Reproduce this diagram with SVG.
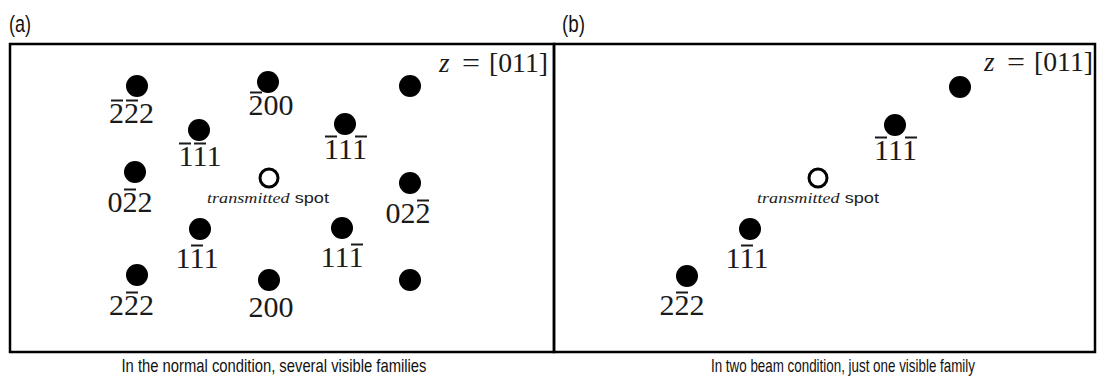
<svg xmlns="http://www.w3.org/2000/svg" width="1097" height="380" viewBox="0 0 1097 380">
<style>
.frame{fill:none;stroke:#000;stroke-width:2.5}
.dot{fill:#000}
.open{fill:#fff;stroke:#000;stroke-width:3}
.lbl{font-family:"Liberation Serif",serif;font-size:30px;fill:#1a1a1a;text-anchor:middle}
.bar{stroke:#1a1a1a;stroke-width:2}
.cap{font-family:"Liberation Sans",sans-serif;font-size:19px;fill:#111;text-anchor:middle}
.tag{font-family:"Liberation Sans",sans-serif;font-size:24px;fill:#111}
.ts{font-family:"Liberation Serif",serif;font-size:15px;fill:#222;text-anchor:middle}
.zax{font-family:"Liberation Serif",serif;font-size:27px;fill:#1a1a1a}
</style>
<text class="tag" x="9" y="32" textLength="22" lengthAdjust="spacingAndGlyphs">(a)</text>
<text class="tag" x="562" y="32" textLength="23" lengthAdjust="spacingAndGlyphs">(b)</text>
<g id="panel-a">
<rect class="frame" x="10" y="44" width="544" height="308"/>
<text class="zax" x="439" y="72"><tspan font-style="italic">z</tspan><tspan x="462" textLength="18" lengthAdjust="spacingAndGlyphs">=</tspan><tspan x="489" textLength="59" lengthAdjust="spacingAndGlyphs">[011]</tspan></text>
</g>
<g id="panel-b">
<rect class="frame" x="554" y="44" width="541" height="308"/>
<text class="zax" x="984" y="71"><tspan font-style="italic">z</tspan><tspan x="1007" textLength="18" lengthAdjust="spacingAndGlyphs">=</tspan><tspan x="1034" textLength="59" lengthAdjust="spacingAndGlyphs">[011]</tspan></text>
</g>
<g id="a-m2m22"><circle class="dot" cx="137" cy="86" r="11"/><text class="lbl" x="131.5" y="123">222</text><path class="bar" d="M111 100.5h12M126 100.5h12"/></g>
<g id="a-m200"><circle class="dot" cx="268" cy="82" r="11"/><text class="lbl" x="271" y="115">200</text><path class="bar" d="M250 92.5h12"/></g>
<g id="a-m1m11"><circle class="dot" cx="199" cy="130" r="11"/><text class="lbl" x="200" y="166">111</text><path class="bar" d="M179 143.5h12M194 143.5h12"/></g>
<g id="a-m11m1"><circle class="dot" cx="345" cy="124" r="11"/><text class="lbl" x="345.5" y="159">111</text><path class="bar" d="M325 136.5h12M355 136.5h12"/></g>
<g id="a-topright"><circle class="dot" cx="410" cy="86" r="11"/></g>
<g id="a-0m22"><circle class="dot" cx="135" cy="172" r="11"/><text class="lbl" x="130" y="212">022</text><path class="bar" d="M124 189.5h12"/></g>
<g id="a-transmitted"><circle class="open" cx="269" cy="178" r="9"/><text class="ts" x="268" y="203" textLength="122" lengthAdjust="spacingAndGlyphs"><tspan font-style="italic">transmitted</tspan><tspan font-family="Liberation Sans, sans-serif"> spot</tspan></text></g>
<g id="a-02m2"><circle class="dot" cx="410" cy="183" r="11"/><text class="lbl" x="408" y="223">022</text><path class="bar" d="M417 200.5h12"/></g>
<g id="a-1m11"><circle class="dot" cx="200" cy="229" r="11"/><text class="lbl" x="197" y="268">111</text><path class="bar" d="M191 245.5h12"/></g>
<g id="a-11m1"><circle class="dot" cx="342" cy="228" r="11"/><text class="lbl" x="342" y="267">111</text><path class="bar" d="M351 244.5h12"/></g>
<g id="a-2m22"><circle class="dot" cx="137" cy="275" r="11"/><text class="lbl" x="131.5" y="315">222</text><path class="bar" d="M126 292.5h12"/></g>
<g id="a-200"><circle class="dot" cx="269" cy="280" r="11"/><text class="lbl" x="271" y="317">200</text></g>
<g id="a-botright"><circle class="dot" cx="410" cy="280" r="11"/></g>
<g id="b-topright"><circle class="dot" cx="960" cy="87" r="11"/></g>
<g id="b-m11m1"><circle class="dot" cx="895" cy="125" r="11"/><text class="lbl" x="895.5" y="160">111</text><path class="bar" d="M875 137.5h12M905 137.5h12"/></g>
<g id="b-transmitted"><circle class="open" cx="818" cy="178" r="9"/><text class="ts" x="818" y="203" textLength="122" lengthAdjust="spacingAndGlyphs"><tspan font-style="italic">transmitted</tspan><tspan font-family="Liberation Sans, sans-serif"> spot</tspan></text></g>
<g id="b-1m11"><circle class="dot" cx="750" cy="229" r="11"/><text class="lbl" x="747" y="268">111</text><path class="bar" d="M741 245.5h12"/></g>
<g id="b-2m22"><circle class="dot" cx="687" cy="276" r="11"/><text class="lbl" x="682" y="315">222</text><path class="bar" d="M676 292.5h12"/></g>
<g id="connectors"></g>
<text class="cap" x="274" y="372" textLength="305" lengthAdjust="spacingAndGlyphs">In the normal condition, several visible families</text>
<text class="cap" x="843" y="372" textLength="264" lengthAdjust="spacingAndGlyphs">In two beam condition, just one visible family</text>
</svg>
